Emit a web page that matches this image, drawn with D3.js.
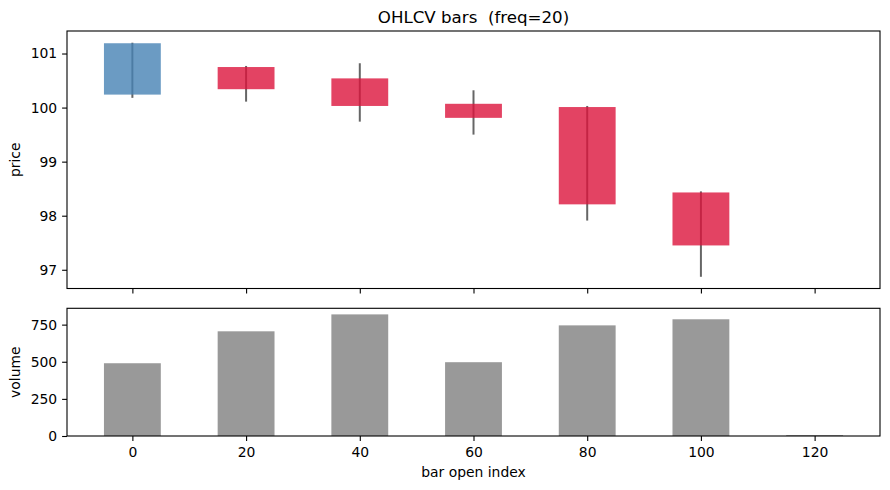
<!DOCTYPE html>
<html>
<head>
<meta charset="utf-8">
<script src="https://cdn.jsdelivr.net/npm/d3@7"></script>
<style>
	body { margin: 0; background: #fff; }
	svg { display: block; font-family: "DejaVu Sans", sans-serif; }
	.title { white-space: pre; }
</style>
</head>
<body>
<div id="chart"></div>
<script>
'use strict';

// bar open index (one bar every 20 ticks)
var barIndex = [0, 20, 40, 60, 80, 100, 120];
var opens    = [100.24, 100.75, 100.54, 100.07, 100.01, 98.43, null];
var highs    = [101.20, 100.77, 100.82, 100.32, 100.03, 98.45, null];
var lows     = [100.18, 100.11, 99.74, 99.50, 97.91, 96.87, null];
var closes   = [101.19, 100.34, 100.03, 99.81, 98.21, 97.45, null];
var volumes  = [490, 705, 819, 497, 745, 786, 6];
var xTicks   = [0, 20, 40, 60, 80, 100, 120];
var priceTicks  = [97, 98, 99, 100, 101];
var volumeTicks = [0, 250, 500, 750];
var barWidth = 10;

var W = 890, H = 490;
var left = 67, right = 880;
var priceTop = 31, priceBottom = 288.5;
var volTop = 308.3, volBottom = 436;

var svg = d3.select('#chart').append('svg')
	.attr('width', W)
	.attr('height', H);

// build candle rows
var candles = barIndex.map(function(d, i){
	return { x: d, o: opens[i], h: highs[i], l: lows[i], c: closes[i], v: volumes[i] };
});
var valid = candles.filter(function(d){ return d.o !== null; });

// scales (matplotlib style 5% margins)
var xMin = d3.min(barIndex) - barWidth / 2;
var xMax = d3.max(barIndex) + barWidth / 2;
var xPad = (xMax - xMin) * 0.05;
var x = d3.scaleLinear().domain([xMin - xPad, xMax + xPad]).range([left, right]);

var pLo = d3.min(valid, function(d){ return d.l; });
var pHi = d3.max(valid, function(d){ return d.h; });
var pPad = (pHi - pLo) * 0.05;
var yPrice = d3.scaleLinear().domain([pLo - pPad, pHi + pPad]).range([priceBottom, priceTop]);

var vMax = d3.max(volumes) * 1.05;
var yVol = d3.scaleLinear().domain([0, vMax]).range([volBottom, volTop]);

var gPrice = svg.append('g');
var gVol = svg.append('g');

// wicks first, bodies on top
gPrice.selectAll('line.wick')
	.data(valid)
	.enter()
	.append('line')
	.attr('class', 'wick')
	.attr('x1', function(d){ return x(d.x); })
	.attr('x2', function(d){ return x(d.x); })
	.attr('y1', function(d){ return yPrice(d.h); })
	.attr('y2', function(d){ return yPrice(d.l); })
	.attr('stroke', '#666')
	.attr('stroke-width', 2);

gPrice.selectAll('rect.body')
	.data(valid)
	.enter()
	.append('rect')
	.attr('class', 'body')
	.attr('x', function(d){ return x(d.x - barWidth / 2); })
	.attr('width', function(d){ return x(barWidth) - x(0); })
	.attr('y', function(d){ return yPrice(Math.max(d.o, d.c)); })
	.attr('height', function(d){ return Math.abs(yPrice(d.o) - yPrice(d.c)); })
	.attr('fill', function(d){ return d.c >= d.o ? 'steelblue' : 'crimson'; })
	.attr('fill-opacity', 0.8);

// volume bars
gVol.selectAll('rect.vol')
	.data(candles)
	.enter()
	.append('rect')
	.attr('class', 'vol')
	.attr('x', function(d){ return x(d.x - barWidth / 2); })
	.attr('width', function(d){ return x(barWidth) - x(0); })
	.attr('y', function(d){ return yVol(d.v); })
	.attr('height', function(d){ return yVol(0) - yVol(d.v); })
	.attr('fill', 'gray')
	.attr('fill-opacity', 0.8);

// axes
var tickLen = 4.9, tickPad = 4.9;
var styleAxis = function(g){
	g.select('.domain').remove();
	g.selectAll('.tick line').attr('stroke', '#000').attr('stroke-width', 1.1);
	g.selectAll('.tick text').attr('fill', '#000').attr('font-size', '13.9px')
		.attr('font-family', '"DejaVu Sans", sans-serif');
};

gPrice.append('g')
	.attr('transform', 'translate(' + left + ',0)')
	.call(d3.axisLeft(yPrice).tickValues(priceTicks).tickSize(tickLen).tickPadding(tickPad).tickFormat(d3.format('d')))
	.call(styleAxis);

gPrice.append('g')
	.attr('transform', 'translate(0,' + priceBottom + ')')
	.call(d3.axisBottom(x).tickValues(xTicks).tickSize(tickLen).tickFormat(''))
	.call(styleAxis);

gVol.append('g')
	.attr('transform', 'translate(' + left + ',0)')
	.call(d3.axisLeft(yVol).tickValues(volumeTicks).tickSize(tickLen).tickPadding(tickPad).tickFormat(d3.format('d')))
	.call(styleAxis);

gVol.append('g')
	.attr('transform', 'translate(0,' + volBottom + ')')
	.call(d3.axisBottom(x).tickValues(xTicks).tickSize(tickLen).tickPadding(tickPad + 1.5).tickFormat(d3.format('d')))
	.call(styleAxis);

// frames
[[priceTop, priceBottom], [volTop, volBottom]].forEach(function(p){
	svg.append('rect')
		.attr('x', left)
		.attr('y', p[0])
		.attr('width', right - left)
		.attr('height', p[1] - p[0])
		.attr('fill', 'none')
		.attr('stroke', '#000')
		.attr('stroke-width', 1.1);
});

// labels
svg.append('text')
	.attr('class', 'title')
	.attr('x', (left + right) / 2)
	.attr('y', 23.3)
	.attr('text-anchor', 'middle')
	.attr('font-size', '16.67px')
	.text('OHLCV bars  (freq=20)');

svg.append('text')
	.attr('x', (left + right) / 2)
	.attr('y', 476.5)
	.attr('text-anchor', 'middle')
	.attr('font-size', '13.9px')
	.text('bar open index');

svg.append('text')
	.attr('transform', 'translate(20,' + (priceTop + priceBottom) / 2 + ') rotate(-90)')
	.attr('text-anchor', 'middle')
	.attr('font-size', '13.9px')
	.text('price');

svg.append('text')
	.attr('transform', 'translate(20,' + (volTop + volBottom) / 2 + ') rotate(-90)')
	.attr('text-anchor', 'middle')
	.attr('font-size', '13.9px')
	.text('volume');
</script>
</body>
</html>
